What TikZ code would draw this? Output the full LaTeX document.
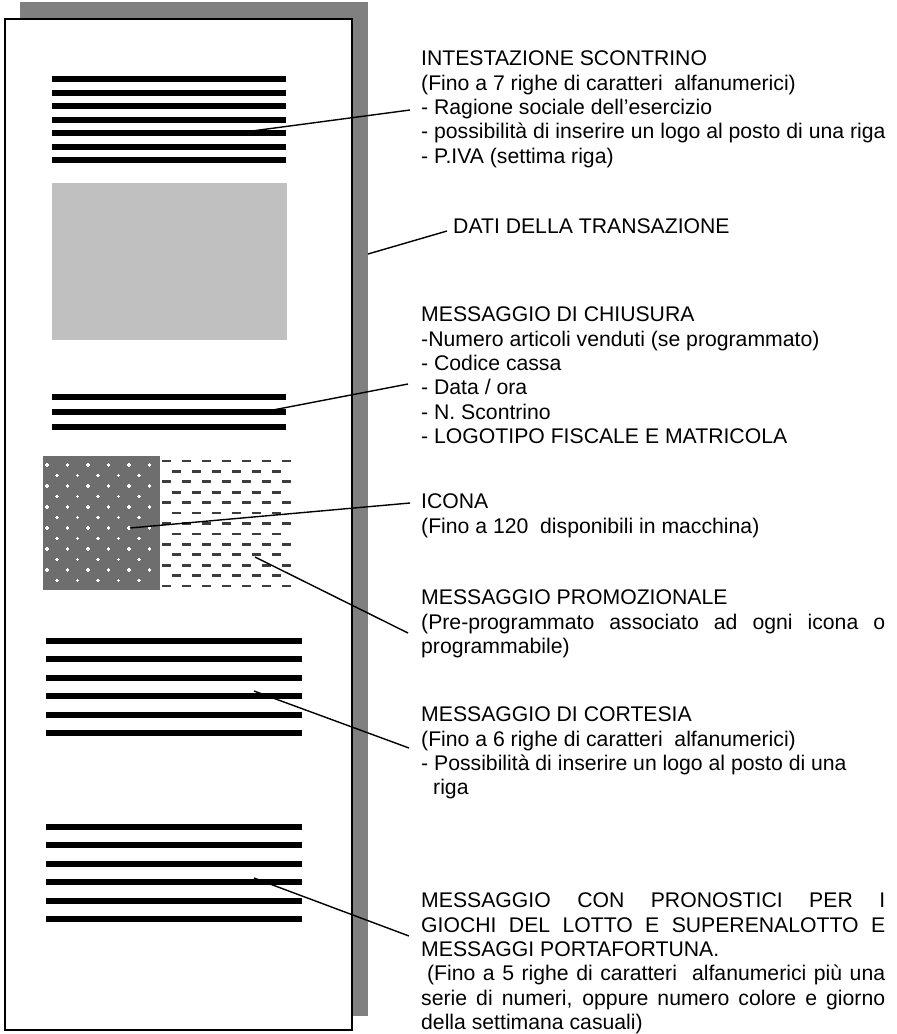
\documentclass[tikz,border=0pt]{standalone}
\usepackage{fontspec}
\setmainfont{Liberation Sans}
\usetikzlibrary{positioning}
\definecolor{shadowgray}{RGB}{128,128,128}
\definecolor{boxgray}{RGB}{192,192,192}
\definecolor{icongray}{RGB}{110,110,110}
\definecolor{dashgray}{RGB}{60,60,60}

\begin{document}
\begin{tikzpicture}[x=1pt, y=-1pt,
    rowbar/.style={line width=6pt},
    dashrow/.style={dashgray, line width=2.7pt, dash pattern=on 9pt off 11pt},
    sparkle/.style={white, line width=1.2pt},
    leader/.style={line width=1.4pt},
    note/.style={anchor=north west, inner sep=0pt, align=left, font=\fontsize{21.2}{24.4}\selectfont}]
  \useasboundingbox (0,0) rectangle (897,1034);
  % receipt with its shadow
  \fill[shadowgray] (20,2) rectangle (368,1016);
  \draw[fill=white, line width=2pt] (5,19) rectangle (352,1030);
  % header rows
  \foreach \k in {0,...,6}
    \draw[rowbar] (52,79+13.5*\k) -- (286,79+13.5*\k);
  % transaction area
  \fill[boxgray] (52,183) rectangle (287,340);
  % closing rows
  \foreach \k in {0,1,2}
    \draw[rowbar] (52,397+15*\k) -- (286,397+15*\k);
  % icon
  \fill[icongray] (43,456) rectangle (160,590);
  \foreach \r in {0,...,11}{
    \pgfmathsetmacro{\dx}{mod(\r,2)*10}
    \foreach \c in {0,...,5}{
      \pgfmathsetmacro{\px}{47+\dx+20.5*\c}
      \pgfmathsetmacro{\py}{465+10.5*\r}
      \ifdim\px pt<158pt
        \draw[sparkle] (\px-1.8,\py) -- (\px+1.8,\py) (\px,\py-1.8) -- (\px,\py+1.8);
      \fi
    }
  }
  % promotional message rows
  \foreach \k in {0,...,12}{
    \pgfmathsetmacro{\py}{461+10.42*\k}
    \ifodd\k
      \draw[dashrow] (172,\py) -- (281,\py);
    \else
      \draw[dashrow] (162,\py) -- (291,\py);
    \fi
  }
  % courtesy rows and lotto rows
  \foreach \k in {0,...,5}{
    \draw[rowbar] (46,641+18.4*\k) -- (302,641+18.4*\k);
    \draw[rowbar] (46,827+18.4*\k) -- (302,827+18.4*\k);
  }

  % texts
  \node[note] (intest) at (421,50.6) {INTESTAZIONE SCONTRINO\\
    (Fino a 7 righe di caratteri\ \ alfanumerici)\\
    - Ragione sociale dell’esercizio\\
    - possibilità di inserire un logo al posto di una riga\\
    - P.IVA (settima riga)};
  \node[note] (dati) at (453,218.6) {DATI DELLA TRANSAZIONE};
  \node[note] (chiusura) at (421,306.6) {MESSAGGIO DI CHIUSURA\\
    -Numero articoli venduti (se programmato)\\
    - Codice cassa\\
    - Data / ora\\
    - N. Scontrino\\
    - LOGOTIPO FISCALE E MATRICOLA};
  \node[note] (icona) at (421,493.6) {ICONA\\
    (Fino a 120\ \ disponibili in macchina)};
  \node[note] (promo) at (421,589.6) {MESSAGGIO PROMOZIONALE\\
    \makebox[464pt][s]{(Pre-programmato associato ad ogni icona o}\\
    programmabile)};
  \node[note] (cortesia) at (421,706.6) {MESSAGGIO DI CORTESIA\\
    (Fino a 6 righe di caratteri\ \ alfanumerici)\\
    - Possibilità di inserire un logo al posto di una\\
    \hspace*{12pt}riga};
  \node[note] (pronostici) at (421,892.6) {\makebox[464pt][s]{MESSAGGIO CON PRONOSTICI PER I}\\
    \makebox[464pt][s]{GIOCHI DEL LOTTO E SUPERENALOTTO E}\\
    MESSAGGI PORTAFORTUNA.\\
    \makebox[464pt][s]{\hspace*{5.9pt}(Fino a 5 righe di caratteri\ \ alfanumerici più una}\\
    \makebox[464pt][s]{serie di numeri, oppure numero colore e giorno}\\
    della settimana casuali)};

  % leaders
  \coordinate (intest-a) at (252,131);   \coordinate (intest-b) at (410,110);
  \coordinate (dati-a) at (368,254);     \coordinate (dati-b) at (447,231);
  \coordinate (chiusura-a) at (273,410); \coordinate (chiusura-b) at (408,384);
  \coordinate (icona-a) at (130,528);    \coordinate (icona-b) at (410,503);
  \coordinate (promo-a) at (255,557);    \coordinate (promo-b) at (408,633);
  \coordinate (cortesia-a) at (254,691); \coordinate (cortesia-b) at (409,748);
  \coordinate (lotto-a) at (254,878);    \coordinate (lotto-b) at (409,936);
  \foreach \n in {intest,dati,chiusura,icona,promo,cortesia,lotto}
    \draw[leader] (\n-a) -- (\n-b);
\end{tikzpicture}
\end{document}
